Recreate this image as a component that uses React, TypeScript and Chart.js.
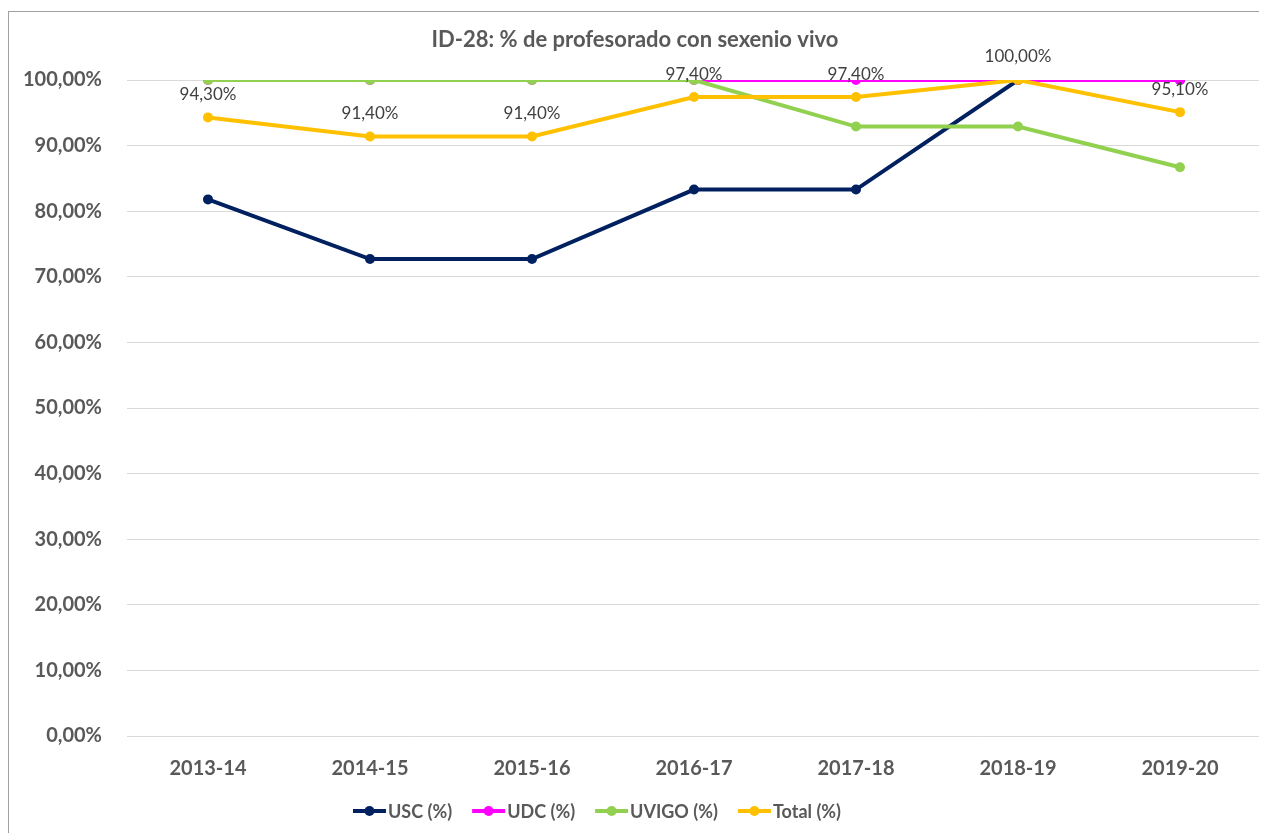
import React, { useEffect, useRef } from "react";
import { Chart, registerables } from "chart.js";

Chart.register(...registerables);

const categories = ["2013-14", "2014-15", "2015-16", "2016-17", "2017-18", "2018-19", "2019-20"];
const uscValues = [81.8, 72.7, 72.7, 83.3, 83.3, 100, 100];
const udcValues = [100, 100, 100, 100, 100, 100, 100];
const uvigoValues = [100, 100, 100, 100, 92.9, 92.9, 86.7];
const totalValues = [94.3, 91.4, 91.4, 97.4, 97.4, 100, 95.1];
const seriesLabels = ["USC (%)", "UDC (%)", "UVIGO (%)", "Total (%)"];
const seriesColors = ["#002060", "#FF00FF", "#92D050", "#FFC000"];
const titleText = "ID-28: % de profesorado con sexenio vivo";

const FONT = "Lato, 'Open Sans', sans-serif";
const fmt = (v: number) => v.toFixed(2).replace(".", ",") + "%";

const dataLabelPlugin = {
  id: "totalLabels",
  afterDatasetsDraw(chart: any) {
    const ctx = chart.ctx;
    const idx = 3;
    const meta = chart.getDatasetMeta(idx);
    const values = chart.data.datasets[idx].data as number[];
    ctx.save();
    ctx.font = `17px ${FONT}`;
    ctx.fillStyle = "#404040";
    ctx.textAlign = "center";
    ctx.textBaseline = "middle";
    meta.data.forEach((pt: any, i: number) => {
      ctx.fillText(fmt(values[i]), pt.x, pt.y - 23);
    });
    ctx.restore();
  },
};

const legendPlugin = {
  id: "customLegend",
  afterDraw(chart: any) {
    const ctx = chart.ctx;
    const centerY = 799;
    const centerX = 588;
    const markerW = 33;
    const textGap = 2;
    const itemGap = 20;
    ctx.save();
    ctx.font = `bold 18px ${FONT}`;
    ctx.textBaseline = "middle";
    ctx.textAlign = "left";
    const items = chart.data.datasets.map((ds: any) => ({
      label: ds.label as string,
      color: ds.borderColor as string,
      w: ctx.measureText(ds.label).width,
    }));
    let total = 0;
    items.forEach((it: any, i: number) => {
      total += markerW + textGap + it.w + (i < items.length - 1 ? itemGap : 0);
    });
    let x = centerX - total / 2;
    items.forEach((it: any) => {
      ctx.strokeStyle = it.color;
      ctx.lineWidth = 4;
      ctx.beginPath();
      ctx.moveTo(x, centerY);
      ctx.lineTo(x + markerW, centerY);
      ctx.stroke();
      ctx.fillStyle = it.color;
      ctx.beginPath();
      ctx.arc(x + markerW / 2, centerY, 5, 0, Math.PI * 2);
      ctx.fill();
      ctx.fillStyle = "#595959";
      ctx.fillText(it.label, x + markerW + textGap, centerY + 1);
      x += markerW + textGap + it.w + itemGap;
    });
    ctx.restore();
  },
};

export default function App() {
  const canvasRef = useRef<HTMLCanvasElement | null>(null);

  useEffect(() => {
    document.body.style.overflow = "hidden";
    const canvas = canvasRef.current;
    if (!canvas) return;
    const values = [uscValues, udcValues, uvigoValues, totalValues];
    const chart = new Chart(canvas, {
      type: "line",
      data: {
        labels: categories,
        datasets: values.map((v, i) => ({
          label: seriesLabels[i],
          data: v,
          borderColor: seriesColors[i],
          backgroundColor: seriesColors[i],
          pointBackgroundColor: seriesColors[i],
          pointBorderWidth: 0,
          pointRadius: 5,
          borderWidth: 4,
          tension: 0,
          order: 3 - i,
        })),
      },
      options: {
        animation: false,
        responsive: false,
        events: [],
        layout: { padding: { top: 0, right: 6, bottom: 0, left: 0 } },
        plugins: {
          legend: { display: false },
          tooltip: { enabled: false },
          title: {
            display: true,
            text: titleText,
            color: "#595959",
            font: { family: FONT, size: 22, weight: "bold" },
            padding: { top: 14.8, bottom: 26.8 },
          },
        },
        scales: {
          x: {
            offset: true,
            grid: { display: false, drawTicks: false },
            border: { display: false },
            ticks: {
              color: "#595959",
              font: { family: FONT, size: 20, weight: "bold" },
              padding: 21,
              maxRotation: 0,
            },
            afterFit: (s: any) => {
              s.height = 100;
            },
          },
          y: {
            min: 0,
            max: 100,
            grid: { color: "#D9D9D9", lineWidth: 1, drawTicks: false },
            border: { display: false },
            ticks: {
              stepSize: 10,
              color: "#595959",
              font: { family: FONT, size: 20, weight: "bold" },
              padding: 25,
              callback: (v: any) => fmt(Number(v)),
            },
            afterFit: (s: any) => {
              s.width = 118;
            },
          },
        },
      },
      plugins: [dataLabelPlugin, legendPlugin],
    });
    return () => chart.destroy();
  }, []);

  return (
    <div
      style={{
        position: "relative",
        top: 3,
        width: 1259,
        height: 825,
        borderTop: "1px solid #A0A0A0",
        borderLeft: "1px solid #A0A0A0",
        boxSizing: "border-box",
        background: "#fff",
      }}
    >
      <canvas ref={canvasRef} width={1258} height={824} style={{ display: "block" }} />
    </div>
  );
}
